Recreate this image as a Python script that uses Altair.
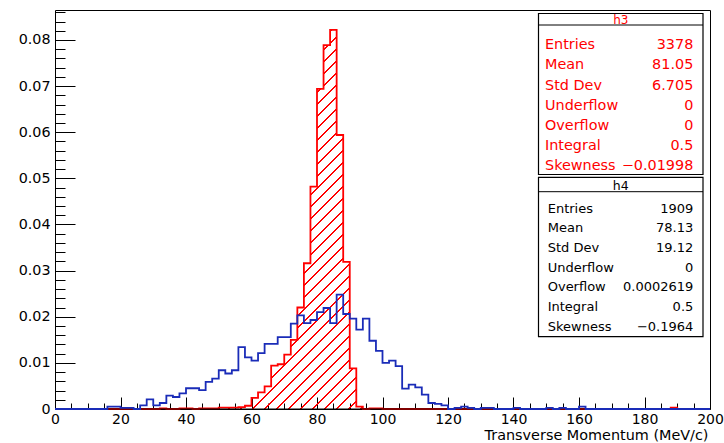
import altair as alt
import pandas as pd

# ---------------- data ----------------
BIN_WIDTH = 2
X_MIN, X_MAX = 0, 200
Y_MAX = 0.0865

H3_VALUES = [
    0, 0, 0, 0, 0, 0, 0, 0, 0, 0,
    0, 0, 0, 0, 0, 0, 0.00015, 0, 0, 0.00015,
    0.00015, 0, 0.00015, 0.00015, 0.00015, 0.0003, 0.0003, 0.0003, 0.0004, 0.0007,
    0.0024, 0.0036, 0.0049, 0.0094, 0.0097, 0.0118, 0.0150, 0.0220, 0.0316, 0.0482,
    0.0694, 0.0789, 0.0822, 0.0594, 0.0319, 0.0088, 0.0005, 0, 0.00015, 0.00015,
    0, 0, 0, 0, 0, 0, 0, 0, 0, 0,
    0, 0, 0, 0, 0, 0, 0, 0, 0, 0,
    0, 0, 0, 0, 0, 0, 0, 0, 0, 0,
    0, 0, 0, 0, 0, 0, 0, 0, 0, 0,
    0, 0, 0, 0, 0.0003, 0, 0, 0, 0, 0,
]

H4_VALUES = [
    0, 0, 0, 0, 0, 0, 0, 0, 0.0005, 0.0005,
    0.00026, 0.00026, 0, 0.0008, 0.0021, 0.0008, 0.0013, 0.0029, 0.0026, 0.0034,
    0.0045, 0.0045, 0.0041, 0.0059, 0.0066, 0.0084, 0.0077, 0.0084, 0.0134, 0.0112,
    0.0105, 0.0121, 0.0141, 0.0141, 0.0156, 0.0156, 0.0185, 0.0203, 0.0186, 0.0193,
    0.0210, 0.0219, 0.0186, 0.0248, 0.0206, 0.0196, 0.0172, 0.0196, 0.0148, 0.0126,
    0.0100, 0.0105, 0.0093, 0.0044, 0.0053, 0.0047, 0.0031, 0.0013, 0.0011, 0.0008,
    0, 0.00026, 0.0005, 0.00026, 0, 0.00026, 0.00026, 0, 0, 0,
    0.00026, 0, 0, 0, 0, 0.00026, 0, 0.00026, 0, 0,
    0.0005, 0, 0, 0, 0, 0, 0, 0, 0, 0,
    0, 0, 0, 0, 0, 0, 0, 0, 0, 0,
]

STAT_LABELS = ["Entries", "Mean", "Std Dev", "Underflow", "Overflow", "Integral", "Skewness"]
H3_STATS = ["3378", "81.05", "6.705", "0", "0", "0.5", "\u22120.01998"]
H4_STATS = ["1909", "78.13", "19.12", "0", "0.0002619", "0.5", "\u22120.1964"]

X_MAJOR = list(range(0, 201, 20))
X_MINOR = [v for v in range(0, 201, 5) if v % 20]
Y_MAJOR = [round(0.01 * i, 3) for i in range(9)]
Y_MINOR = [round(0.002 * i, 3) for i in range(44) if i % 5]

X_TITLE = "Transverse Momentum (MeV/c)"

# ---------------- layout / style ----------------
PLOT_W, PLOT_H = 655, 399
FONT = "DejaVu Sans"
RED = "#ff0000"
BLUE = "#1a2cb8"

edges = [X_MIN + BIN_WIDTH * i for i in range(len(H3_VALUES))] + [X_MAX]
df = pd.DataFrame({
    "x": edges,
    "h3": H3_VALUES + [H3_VALUES[-1]],
    "h4": H4_VALUES + [H4_VALUES[-1]],
})

xs = alt.Scale(domain=[X_MIN, X_MAX], nice=False, zero=False)
ys = alt.Scale(domain=[0, Y_MAX], nice=False, zero=False)

# hatch pattern as a striped linear gradient over the area's bounding box
bw = PLOT_W
bh = max(H3_VALUES) / Y_MAX * PLOT_H
S = bw + bh
den = bw * bw + bh * bh
gx, gy = bw * S / den, bh * S / den
period, lw = 12.0, 1.5
stops = []
k = 0
while (k * period + lw) / S < 1:
    a = k * period / S
    b = (k * period + lw) / S
    stops += [
        alt.GradientStop(offset=a, color="rgba(255,0,0,0)"),
        alt.GradientStop(offset=a, color=RED),
        alt.GradientStop(offset=b, color=RED),
        alt.GradientStop(offset=b, color="rgba(255,0,0,0)"),
    ]
    k += 1
stops.append(alt.GradientStop(offset=1, color="rgba(255,0,0,0)"))
hatch = alt.LinearGradient(gradient="linear", stops=stops, x1=0, y1=0, x2=gx, y2=gy)

base = alt.Chart(df)

area = base.mark_area(interpolate="step-after", fill=hatch, line=False).encode(
    x=alt.X("x:Q", scale=xs, axis=alt.Axis(
        orient="bottom", values=X_MAJOR, ticks=False, tickSize=0, domain=False, grid=False,
        labelFlush=False, labelOverlap=False, labelPadding=3, labelFont=FONT, labelFontSize=14,
        labelColor="black", title=X_TITLE, titleFont=FONT, titleFontSize=14.4,
        titleFontWeight="normal", titleColor="black", titleAnchor="end", titleAlign="right",
        titleBaseline="alphabetic", titleX=653, titleY=30.5)),
    y=alt.Y("h3:Q", scale=ys, axis=alt.Axis(
        orient="left", values=Y_MAJOR, ticks=False, tickSize=0, domain=False, grid=False,
        labelFlush=False, labelOverlap=False, labelPadding=5, labelFont=FONT, labelFontSize=14.3,
        labelColor="black", title=None,
        labelExpr="datum.value == 0 ? '0' : format(datum.value, '.2f')")),
)

red_line = base.mark_line(interpolate="step-after", color=RED, strokeWidth=1.8).encode(
    x=alt.X("x:Q", scale=xs, axis=None),
    y=alt.Y("h3:Q", scale=ys, axis=None),
)

axis_line = alt.Chart(pd.DataFrame({"x": [X_MIN], "x2": [X_MAX], "y": [0]})).mark_rule(
    color="black", strokeWidth=1).encode(
    x=alt.X("x:Q", scale=xs, axis=None), x2="x2:Q",
    y=alt.Y("y:Q", scale=ys, axis=None),
)

blue_line = base.mark_line(interpolate="step-after", color=BLUE, strokeWidth=1.8).encode(
    x=alt.X("x:Q", scale=xs, axis=alt.Axis(
        orient="top", offset=-PLOT_H, values=X_MAJOR, labels=False, domain=False, grid=False,
        ticks=True, tickSize=12, tickColor="black", tickWidth=1, title=None)),
    y=alt.Y("h4:Q", scale=ys, axis=alt.Axis(
        orient="right", offset=-PLOT_W, values=Y_MAJOR, labels=False, domain=False, grid=False,
        ticks=True, tickSize=20, tickColor="black", tickWidth=1, title=None)),
)

minor_ticks = base.mark_line(strokeOpacity=0).encode(
    x=alt.X("x:Q", scale=xs, axis=alt.Axis(
        orient="top", offset=-PLOT_H, values=X_MINOR, labels=False, domain=False, grid=False,
        ticks=True, tickSize=6, tickColor="black", tickWidth=1, title=None)),
    y=alt.Y("h4:Q", scale=ys, axis=alt.Axis(
        orient="right", offset=-PLOT_W, values=Y_MINOR, labels=False, domain=False, grid=False,
        ticks=True, tickSize=10, tickColor="black", tickWidth=1, title=None)),
)

one = pd.DataFrame({"a": [0]})


def stat_box(name, stats, color, top, bottom, sep, head_base, head_size,
             row0, row_step, lab_x, val_x, size):
    left, right = 483.5, 648
    rect = alt.Chart(one).mark_rect(fill="white", stroke="black", strokeWidth=1.2).encode(
        x=alt.value(left), x2=alt.value(right), y=alt.value(top), y2=alt.value(bottom))
    sep_rule = alt.Chart(one).mark_rule(color="black", strokeWidth=1).encode(
        x=alt.value(left), x2=alt.value(right), y=alt.value(sep))
    head = alt.Chart(pd.DataFrame({"t": [name]})).mark_text(
        align="center", baseline="alphabetic", font=FONT, fontSize=head_size, color=color).encode(
        x=alt.value((left + right) / 2), y=alt.value(head_base), text="t:N")
    rows = pd.DataFrame({
        "label": STAT_LABELS,
        "value": stats,
        "py": [row0 + row_step * i for i in range(len(STAT_LABELS))],
    })
    labs = alt.Chart(rows).mark_text(
        align="left", baseline="alphabetic", font=FONT, fontSize=size, color=color).encode(
        x=alt.value(lab_x), y=alt.Y("py:Q", scale=None, axis=None), text="label:N")
    vals = alt.Chart(rows).mark_text(
        align="right", baseline="alphabetic", font=FONT, fontSize=size, color=color).encode(
        x=alt.value(val_x), y=alt.Y("py:Q", scale=None, axis=None), text="value:N")
    return [rect, sep_rule, head, labs, vals]


box3 = stat_box("h3", H3_STATS, RED, 3.5, 164.5, 15, 13.5, 12, 39.3, 20.1, 490, 638.3, 14.4)
box4 = stat_box("h4", H4_STATS, "black", 167.3, 326.7, 181.7, 180, 12.5, 202.7, 19.66, 492.7, 638.3, 13)

chart = alt.layer(
    area, red_line, axis_line, blue_line, minor_ticks, *box3, *box4
).resolve_scale(
    x="independent", y="independent"
).resolve_axis(
    x="independent", y="independent"
).properties(
    width=PLOT_W, height=PLOT_H,
    autosize=alt.AutoSizeParams(type="none"),
    padding={"left": 55, "top": 10, "right": 14, "bottom": 34},
    background="white",
).configure_view(
    stroke="black", strokeWidth=1
)

chart.save("out.html", embed_options={"renderer": "svg", "actions": False})
